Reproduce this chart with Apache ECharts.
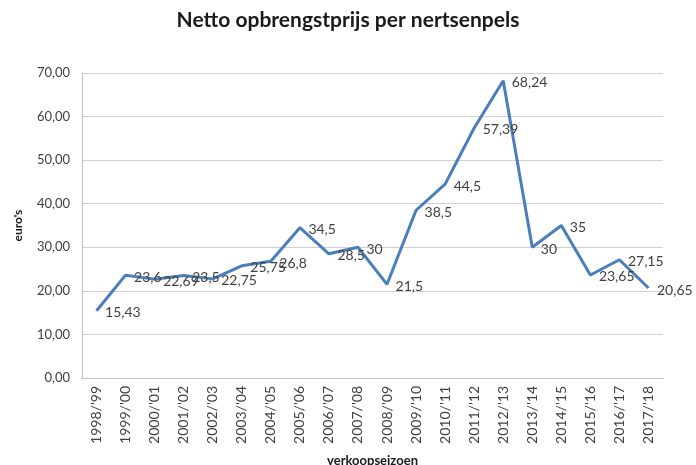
<!DOCTYPE html>
<html>
<head>
<meta charset="utf-8">
<script src="https://cdn.jsdelivr.net/npm/echarts@6/dist/echarts.min.js"></script>
<style>
  html, body { margin: 0; padding: 0; background: #fff; }
  #chart { width: 696px; height: 465px; }
</style>
</head>
<body>
<div id="chart"></div>
<script>
// Netto opbrengstprijs per nertsenpels, per verkoopseizoen.

const seasons = [
  "1998/'99", "1999/'00", "2000/'01", "2001/'02", "2002/'03",
  "2003/'04", "2004/'05", "2005/'06", "2006/'07", "2007/'08",
  "2008/'09", "2009/'10", "2010/'11", "2011/'12", "2012/'13",
  "2013/'14", "2014/'15", "2015/'16", "2016/'17", "2017/'18",
];
const prices = [
  15.43, 23.6, 22.69, 23.5, 22.75,
  25.75, 26.8, 34.5, 28.5, 30,
  21.5, 38.5, 44.5, 57.39, 68.24,
  30, 35, 23.65, 27.15, 20.65,
];

const FONT = "Lato, 'Open Sans', sans-serif";
const LINE_BLUE = "#4a7ebb";

// Dutch decimal comma
const comma = (v, digits) =>
  digits == null ? String(v).replace(".", ",") : v.toFixed(digits).replace(".", ",");

const chart = echarts.init(document.getElementById("chart"), null, { renderer: "canvas" });

chart.setOption({
  backgroundColor: "#fff",
  animation: false,
  textStyle: { fontFamily: FONT },
  title: {
    text: "Netto opbrengstprijs per nertsenpels",
    left: "center",
    top: 5,
    textStyle: { fontFamily: FONT, fontSize: 21, fontWeight: "bold", color: "#1a1a1a" },
  },
  // fixed plot rectangle, don't let v6 shrink it to fit the axis names
  grid: { left: 82, right: 33, top: 73, bottom: 87, outerBoundsMode: "none", containLabel: false },
  xAxis: {
    type: "category",
    data: seasons,
    boundaryGap: true,
    name: "verkoopseizoen",
    nameLocation: "middle",
    nameGap: 76,
    nameTextStyle: { fontFamily: FONT, fontSize: 13, fontWeight: "bold", color: "#1a1a1a" },
    axisLine: { lineStyle: { color: "#bfbfbf", width: 1 } },
    axisTick: { show: false },
    axisLabel: {
      rotate: 90,
      interval: 0,
      margin: 8,
      fontFamily: FONT,
      fontSize: 14,
      color: "#404040",
    },
  },
  yAxis: {
    type: "value",
    min: 0,
    max: 70,
    interval: 10,
    name: "euro's",
    nameLocation: "middle",
    nameGap: 58,
    nameRotate: 90,
    nameTextStyle: { fontFamily: FONT, fontSize: 12, fontWeight: "bold", color: "#1a1a1a" },
    axisLine: { show: true, lineStyle: { color: "#bfbfbf", width: 1 } },
    axisTick: { show: false },
    axisLabel: {
      margin: 12,
      fontFamily: FONT,
      fontSize: 13,
      color: "#404040",
      formatter: (v) => comma(v, 2),
    },
    splitLine: { lineStyle: { color: "#d0d0d0", width: 1 } },
  },
  series: [
    {
      type: "line",
      data: prices,
      // invisible markers so the data labels still render
      showSymbol: true,
      symbol: "circle",
      symbolSize: 1,
      itemStyle: { color: "transparent", borderWidth: 0 },
      lineStyle: { color: LINE_BLUE, width: 3 },
      label: {
        show: true,
        position: "right",
        distance: 8,
        offset: [0, 2],
        fontFamily: FONT,
        fontSize: 14,
        color: "#404040",
        formatter: (p) => comma(p.value),
      },
    },
  ],
});
</script>
</body>
</html>
